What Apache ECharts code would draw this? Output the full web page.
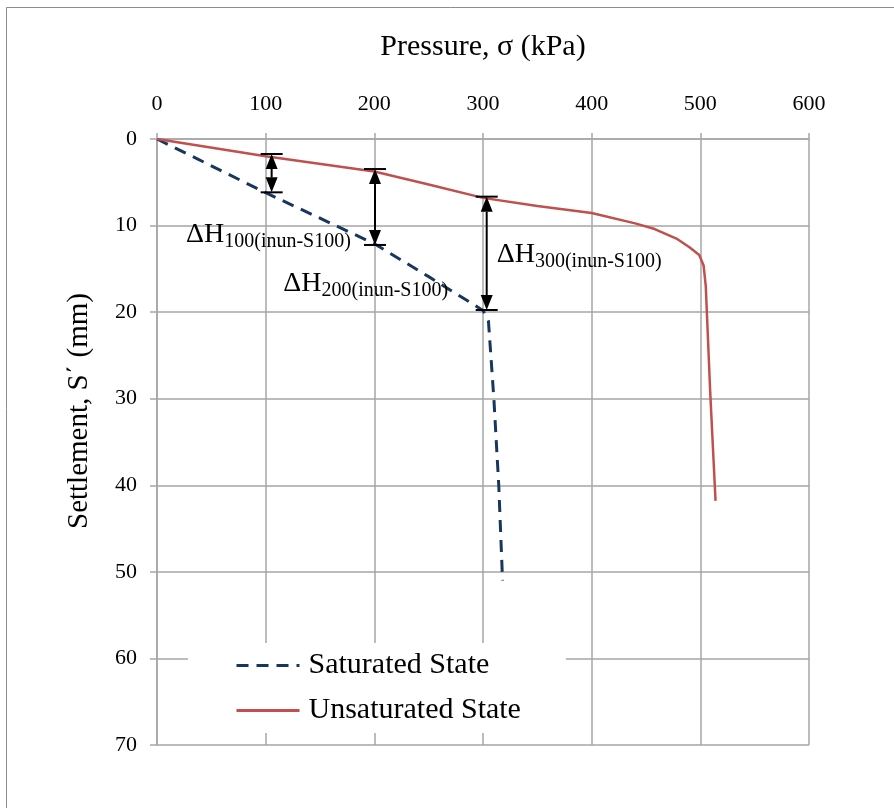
<!DOCTYPE html>
<html>
<head>
<meta charset="utf-8">
<script src="https://cdn.jsdelivr.net/npm/echarts@6.0.0/dist/echarts.min.js"></script>
<style>
  html, body { margin: 0; padding: 0; background: #fff; }
  #main { width: 894px; height: 808px; }
</style>
</head>
<body>
<div id="main"></div>
<script>
// pressure (kPa) vs settlement (mm)
var xTicks = [0, 100, 200, 300, 400, 500, 600];
var yTicks = [0, 10, 20, 30, 40, 50, 60, 70];

var saturated = [
    [0, 0], [100, 6.2], [200, 12.1], [250, 15.9], [300, 19.8],
    [305, 21], [310, 30], [314.5, 40], [318, 51]
];
var unsaturated = [
    [0, 0], [100, 2.0], [200, 3.75], [250, 5.25], [300, 6.8], [350, 7.75],
    [400, 8.55], [440, 9.75], [458, 10.4], [478, 11.5], [490, 12.5],
    [499, 13.4], [503, 14.6], [505, 17], [509, 29], [514, 41.8]
];

// double arrows: [pressure, top settlement, bottom settlement]
var arrows = [[105.5, 1.73, 6.16], [200.6, 3.47, 12.24], [303.4, 6.66, 19.75]];
// label anchors (left edge, baseline of ΔH)
var labelPos = [[26.7, 12.0], [116.2, 17.6], [312.6, 14.3]];
var labelSubs = ['100(inun-S100)', '200(inun-S100)', '300(inun-S100)'];

var FONT = '"Liberation Serif", "Times New Roman", serif';
var GRID_C = '#a6a6a6';

var chart = echarts.init(document.getElementById('main'));

var option = {
    backgroundColor: '#fff',
    animation: false,
    grid: { left: 157, top: 139, right: 85, bottom: 63 },
    xAxis: {
        type: 'value',
        position: 'top',
        min: 0, max: 600, interval: 100,
        name: 'Pressure, σ (kPa)',
        nameLocation: 'middle',
        nameGap: 77,
        nameTextStyle: { fontFamily: FONT, fontSize: 30, color: '#000' },
        axisLine: { show: true, lineStyle: { color: GRID_C, width: 1.5 } },
        axisTick: { show: true, inside: false, length: 6, lineStyle: { color: GRID_C, width: 1.5 } },
        axisLabel: { margin: 24, fontFamily: FONT, fontSize: 22, color: '#000' },
        splitLine: { show: true, lineStyle: { color: GRID_C, width: 1.5 } }
    },
    yAxis: {
        type: 'value',
        inverse: true,
        min: 0, max: 70, interval: 10,
        axisLine: { show: true, lineStyle: { color: GRID_C, width: 1.5 } },
        axisTick: { show: true, inside: false, length: 7, lineStyle: { color: GRID_C, width: 1.5 } },
        axisLabel: { margin: 20, fontFamily: FONT, fontSize: 22, color: '#000' },
        splitLine: { show: true, lineStyle: { color: GRID_C, width: 1.5 } }
    },
    legend: {
        orient: 'vertical',
        left: 188, top: 643,
        backgroundColor: '#fff',
        padding: [6, 45, 6, 47],
        itemWidth: 63, itemHeight: 14, itemGap: 12,
        itemStyle: { opacity: 0 },
        lineStyle: { width: 3 },
        textStyle: { fontFamily: FONT, fontSize: 30, color: '#000', lineHeight: 33, padding: [0, 0, 0, 4] },
        data: ['Saturated State', 'Unsaturated State']
    },
    graphic: [
        {
            type: 'text',
            x: 79, y: 411,
            rotation: Math.PI / 2,
            style: {
                text: 'Settlement, S΄ (mm)',
                x: 0, y: 0,
                align: 'center', verticalAlign: 'middle',
                font: '29px ' + FONT,
                fill: '#000'
            }
        },
        {
            type: 'rect',
            shape: { x: 6.5, y: 7.5, width: 1000, height: 1000 },
            style: { fill: 'none', stroke: '#8c8c8c', lineWidth: 1 },
            silent: true
        }
    ],
    series: [
        {
            name: 'Saturated State',
            type: 'line',
            data: saturated,
            symbol: 'none',
            lineStyle: { color: '#17375e', width: 3, type: [12, 8] },
            itemStyle: { color: '#17375e' },
            z: 3
        },
        {
            name: 'Unsaturated State',
            type: 'line',
            data: unsaturated,
            symbol: 'none',
            lineStyle: { color: '#c0504d', width: 2.5 },
            itemStyle: { color: '#c0504d' },
            z: 3
        },
        {
            type: 'custom',
            data: arrows,
            encode: { x: 0, y: [1, 2] },
            silent: true,
            z: 5,
            renderItem: function (params, api) {
                var x = api.value(0);
                var p1 = api.coord([x, api.value(1)]);
                var p2 = api.coord([x, api.value(2)]);
                var cx = p1[0], hw = 11, aw = 6, ah = 15;
                var ls = { stroke: '#000', lineWidth: 2 };
                return {
                    type: 'group',
                    children: [
                        { type: 'line', shape: { x1: cx, y1: p1[1] + ah, x2: cx, y2: p2[1] - ah }, style: ls },
                        { type: 'line', shape: { x1: cx - hw, y1: p1[1], x2: cx + hw, y2: p1[1] }, style: ls },
                        { type: 'line', shape: { x1: cx - hw, y1: p2[1], x2: cx + hw, y2: p2[1] }, style: ls },
                        { type: 'polygon', shape: { points: [[cx, p1[1]], [cx - aw, p1[1] + ah], [cx + aw, p1[1] + ah]] }, style: { fill: '#000' } },
                        { type: 'polygon', shape: { points: [[cx, p2[1]], [cx - aw, p2[1] - ah], [cx + aw, p2[1] - ah]] }, style: { fill: '#000' } }
                    ]
                };
            }
        },
        {
            type: 'custom',
            data: labelPos,
            encode: { x: 0, y: 1 },
            silent: true,
            z: 6,
            renderItem: function (params, api) {
                var p = api.coord([api.value(0), api.value(1)]);
                return {
                    type: 'text',
                    x: p[0], y: p[1] + 9,
                    style: {
                        text: '{d|ΔH}{s|' + labelSubs[params.dataIndex] + '}',
                        align: 'left',
                        verticalAlign: 'bottom',
                        rich: {
                            d: { fontFamily: FONT, fontSize: 28, color: '#000', verticalAlign: 'bottom', padding: [0, 0, 3, 0] },
                            s: { fontFamily: FONT, fontSize: 20, color: '#000', verticalAlign: 'bottom' }
                        }
                    }
                };
            }
        }
    ]
};

chart.setOption(option);
</script>
</body>
</html>
